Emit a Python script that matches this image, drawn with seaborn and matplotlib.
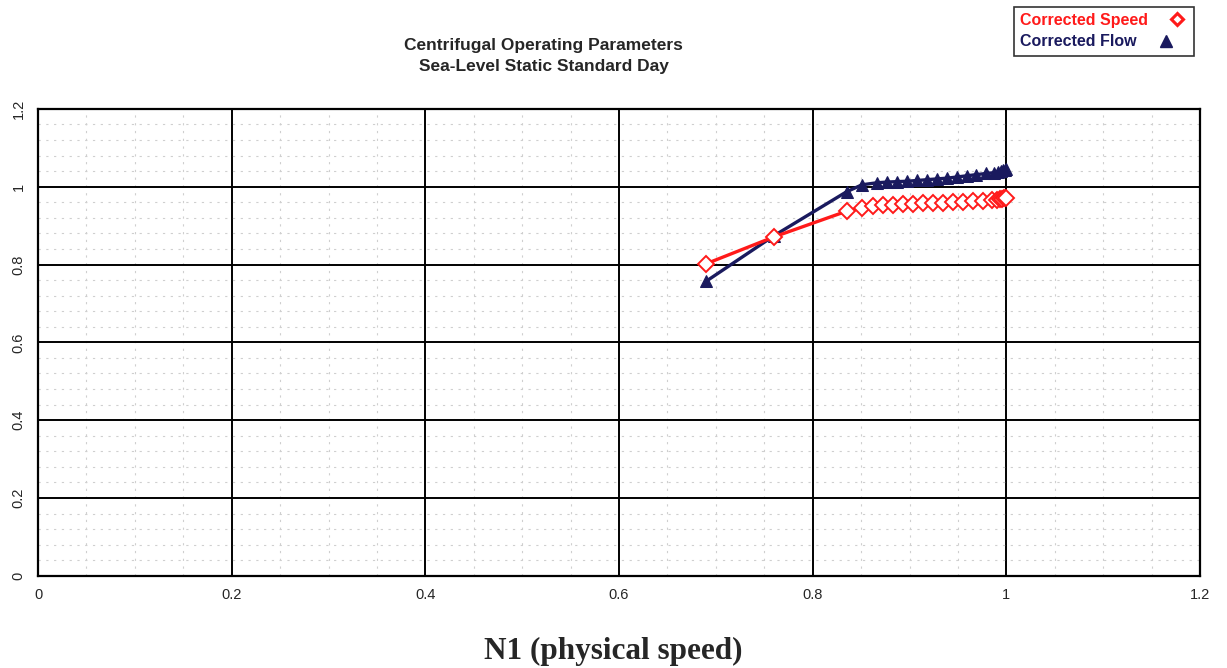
import matplotlib
matplotlib.use("Agg")
import matplotlib.pyplot as plt
import seaborn as sns
import pandas as pd
from matplotlib.ticker import MultipleLocator
from matplotlib.lines import Line2D

sns.set_style("white")
plt.rcParams['font.family'] = ['Liberation Sans', 'DejaVu Sans']

speed_x = [0.690, 0.760, 0.835, 0.851, 0.862, 0.873, 0.883, 0.893, 0.904, 0.914, 0.924,
           0.935, 0.945, 0.955, 0.966, 0.976, 0.985, 0.990, 0.993, 0.996, 0.998, 1.000]
speed_y = [0.802, 0.871, 0.937, 0.946, 0.951, 0.953, 0.954, 0.955, 0.956, 0.957, 0.958,
           0.959, 0.960, 0.961, 0.962, 0.964, 0.966, 0.967, 0.968, 0.969, 0.970, 0.970]
flow_x = [0.690, 0.760, 0.835, 0.851, 0.866, 0.877, 0.887, 0.897, 0.908, 0.918, 0.928,
          0.939, 0.949, 0.959, 0.969, 0.979, 0.987, 0.991, 0.994, 0.997, 0.999, 1.000]
flow_y = [0.757, 0.874, 0.987, 1.005, 1.010, 1.012, 1.013, 1.014, 1.016, 1.018, 1.020,
          1.022, 1.025, 1.028, 1.031, 1.034, 1.036, 1.038, 1.040, 1.042, 1.044, 1.046]

x_ticks = [0, 0.2, 0.4, 0.6, 0.8, 1.0, 1.2]
x_labels = ["0", "0.2", "0.4", "0.6", "0.8", "1", "1.2"]
y_ticks = [0, 0.2, 0.4, 0.6, 0.8, 1.0, 1.2]
y_labels = ["0", "0.2", "0.4", "0.6", "0.8", "1", "1.2"]

RED = "#ff1a1a"
NAVY = "#1a1a5e"

fig = plt.figure(figsize=(12.27, 6.68), dpi=100)
ax = fig.add_axes([0.031, 0.138, 0.947, 0.699])

df_s = pd.DataFrame({"x": speed_x, "y": speed_y})
df_f = pd.DataFrame({"x": flow_x, "y": flow_y})

sns.lineplot(data=df_f, x="x", y="y", ax=ax, sort=False, color=NAVY, linewidth=2.4,
             marker="^", markersize=8, markeredgecolor=NAVY, markerfacecolor=NAVY, zorder=4)
sns.lineplot(data=df_s, x="x", y="y", ax=ax, sort=False, color=RED, linewidth=2.4,
             marker="D", markersize=8.5, markeredgecolor=RED, markerfacecolor="white",
             markeredgewidth=1.4, zorder=5)

ax.set_xlim(0, 1.2)
ax.set_ylim(0, 1.2)
ax.set_xticks(x_ticks)
ax.set_xticklabels(x_labels, fontsize=10.5)
ax.set_yticks(y_ticks)
ax.set_yticklabels(y_labels, fontsize=10.5, rotation=90, va="center")
ax.xaxis.set_minor_locator(MultipleLocator(0.05))
ax.yaxis.set_minor_locator(MultipleLocator(0.04))
ax.grid(which="major", color="black", linewidth=1.4, zorder=1)
ax.grid(which="minor", color="#cfcfcf", linewidth=0.8, linestyle=(0, (2, 5)), zorder=0)
ax.set_axisbelow(True)
for sp in ax.spines.values():
    sp.set_color("black")
    sp.set_linewidth(1.6)
ax.tick_params(axis="both", which="major", length=3, color="black", pad=6)
ax.tick_params(axis="both", which="minor", length=0)
ax.set_xlabel("")
ax.set_ylabel("")

fig.text(0.5, 0.025, "N1 (physical speed)", ha="center", va="center",
         fontsize=22.5, fontweight="bold", family=["Liberation Serif", "DejaVu Serif"])
fig.text(0.443, 0.916, "Centrifugal Operating Parameters\nSea-Level Static Standard Day",
         ha="center", va="center", fontsize=12.5, fontweight="heavy", linespacing=1.45)

handles = [
    Line2D([], [], linestyle="none", marker="D", markersize=6.5, markerfacecolor="white",
           markeredgecolor=RED, markeredgewidth=2.2),
    Line2D([], [], linestyle="none", marker="^", markersize=8, markerfacecolor=NAVY,
           markeredgecolor=NAVY),
]
leg = fig.legend(handles, ["Corrected Speed", "Corrected Flow"], loc="upper left",
                 bbox_to_anchor=(0.826, 0.99), markerfirst=False, frameon=True,
                 fancybox=False, edgecolor="black", fontsize=11.5, handlelength=1.3,
                 handletextpad=1.2, borderpad=0.4, labelspacing=0.4, borderaxespad=0)
leg.get_frame().set_linewidth(1.2)
for t, c in zip(leg.get_texts(), [RED, NAVY]):
    t.set_color(c)
    t.set_fontweight("bold")
for col in leg._legend_handle_box.get_children():
    col.align = "left"

fig.savefig("out.png", dpi=100, facecolor="white")
